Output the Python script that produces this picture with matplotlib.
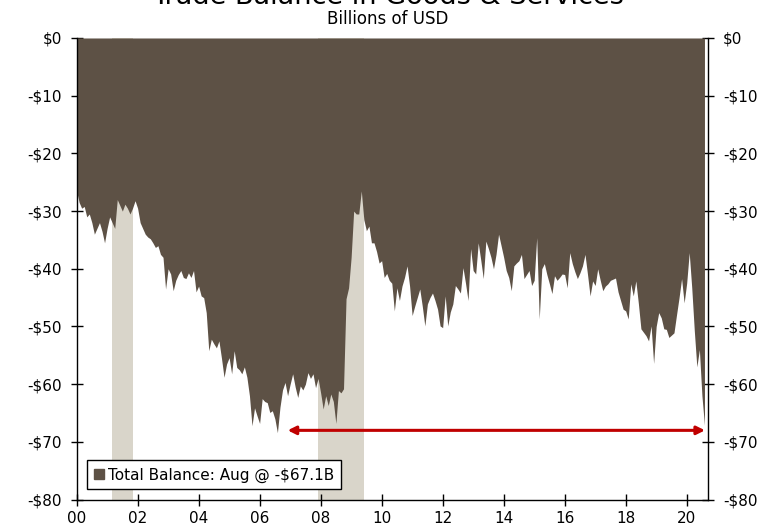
import numpy as np
import matplotlib
matplotlib.use("Agg")
import matplotlib.pyplot as plt
from matplotlib.patches import Patch
from matplotlib.ticker import FuncFormatter

# Monthly trade balance, billions of USD (Jan 2000 - Aug 2020)
bal_2000 = [-26.5, -28.5, -29.5, -29.2, -31.0, -30.5, -32.0, -34.0, -33.0, -32.0, -33.5, -35.5]
bal_2001 = [-33.0, -31.0, -32.0, -33.0, -28.0, -29.0, -30.0, -28.8, -29.5, -30.5, -29.5, -28.2]
bal_2002 = [-29.5, -32.0, -33.0, -34.0, -34.5, -34.8, -35.5, -36.3, -36.0, -37.5, -38.0, -43.5]
bal_2003 = [-40.0, -40.9, -43.8, -42.0, -41.0, -40.3, -41.5, -41.7, -40.7, -41.5, -40.3, -44.0]
bal_2004 = [-43.0, -44.7, -45.0, -47.6, -54.2, -52.2, -53.0, -53.7, -52.5, -55.5, -58.8, -56.5]
bal_2005 = [-55.4, -58.2, -54.2, -57.1, -57.5, -58.2, -57.0, -58.8, -62.0, -67.2, -64.1, -65.5]
bal_2006 = [-66.8, -62.5, -63.0, -63.2, -64.9, -64.6, -66.0, -68.4, -64.0, -61.0, -59.7, -62.0]
bal_2007 = [-60.0, -58.2, -60.5, -62.3, -60.3, -61.0, -60.0, -58.0, -59.0, -58.2, -60.6, -59.0]
bal_2008 = [-61.5, -64.3, -62.0, -63.7, -61.7, -63.0, -66.8, -61.1, -61.5, -60.8, -45.2, -43.3]
bal_2009 = [-38.0, -30.0, -30.5, -30.5, -26.5, -31.5, -33.4, -32.6, -35.5, -35.5, -37.0, -39.0]
bal_2010 = [-38.6, -41.5, -40.8, -42.0, -42.5, -47.3, -43.3, -45.5, -43.0, -41.5, -39.5, -43.0]
bal_2011 = [-48.1, -46.5, -45.0, -43.5, -46.5, -49.9, -46.1, -45.0, -44.2, -45.5, -47.0, -49.9]
bal_2012 = [-50.2, -44.7, -49.9, -47.5, -46.1, -42.9, -43.5, -44.2, -39.8, -42.5, -45.5, -36.5]
bal_2013 = [-40.3, -40.9, -35.5, -38.5, -41.7, -35.2, -36.5, -38.0, -40.0, -37.5, -34.0, -36.0]
bal_2014 = [-38.0, -40.3, -41.5, -43.8, -39.5, -39.0, -38.6, -37.5, -41.7, -41.0, -40.3, -42.9]
bal_2015 = [-42.0, -34.6, -48.7, -40.0, -39.1, -41.0, -42.6, -44.3, -41.2, -42.0, -41.5, -40.9]
bal_2016 = [-41.0, -43.3, -37.2, -39.1, -40.5, -41.7, -40.7, -39.5, -37.5, -41.0, -44.7, -42.1]
bal_2017 = [-42.9, -40.0, -42.0, -43.8, -43.0, -42.6, -42.0, -41.8, -41.6, -44.0, -45.5, -47.0]
bal_2018 = [-47.3, -48.7, -42.6, -44.7, -42.1, -46.0, -50.4, -51.0, -51.6, -52.5, -49.9, -56.4]
bal_2019 = [-50.0, -47.6, -48.5, -50.4, -50.5, -51.9, -51.5, -51.1, -48.0, -45.0, -41.7, -45.9]
bal_2020 = [-42.5, -37.2, -43.3, -50.7, -57.0, -54.0, -62.0, -67.1]

# Recessions (decimal years)
rec_start = [2001.167, 2007.917]
rec_end = [2001.833, 2009.417]

# Arrow from the 2006 low to the latest print
arrow_x = [2006.92, 2020.6]
arrow_y = -68

year_ticks = list(range(2000, 2021, 2))
y_ticks = list(range(-80, 1, 10))
legend_label = "Total Balance: Aug @ -$67.1B"

balance = (bal_2000 + bal_2001 + bal_2002 + bal_2003 + bal_2004 + bal_2005 + bal_2006
           + bal_2007 + bal_2008 + bal_2009 + bal_2010 + bal_2011 + bal_2012 + bal_2013
           + bal_2014 + bal_2015 + bal_2016 + bal_2017 + bal_2018 + bal_2019 + bal_2020)
x = 2000 + np.arange(len(balance)) / 12.0

area_color = "#5D5145"
rec_color = "#D9D5CA"
red = "#C00000"

fig = plt.figure(figsize=(7.76, 5.29), dpi=100)
ax = fig.add_axes([0.0987, 0.0556, 0.8141, 0.8726])

for s, e in zip(rec_start, rec_end):
    ax.axvspan(s, e, color=rec_color, lw=0, zorder=1)

ax.fill_between(x, 0, balance, color=area_color, lw=0, zorder=2)

ax.annotate("", xy=(arrow_x[1], arrow_y), xytext=(arrow_x[0], arrow_y),
            arrowprops=dict(arrowstyle="<|-|>", color=red, lw=2.2,
                            mutation_scale=12, shrinkA=0, shrinkB=0),
            zorder=4)

ax.set_xlim(2000, 2020.71)
ax.set_ylim(-80, 0)
ax.set_xticks(year_ticks)
ax.set_xticklabels(["%02d" % (y - 2000) for y in year_ticks])
ax.set_yticks(y_ticks)
ax.yaxis.set_major_formatter(FuncFormatter(
    lambda v, p: "-$%d" % abs(v) if v < 0 else "$%d" % v))

ax.tick_params(axis="both", direction="inout", length=9, width=1, labelsize=11)
ax.tick_params(axis="y", right=True, labelright=True, pad=6)
ax.tick_params(axis="x", pad=4)
ax.spines["top"].set_visible(False)
for side in ["left", "right", "bottom"]:
    ax.spines[side].set_linewidth(1)
ax.set_zorder(3)

leg = ax.legend(handles=[Patch(color=area_color, label=legend_label)],
                loc="lower left", bbox_to_anchor=(0.016, 0.022),
                fontsize=11, frameon=True, fancybox=False, framealpha=1,
                edgecolor="black", handlelength=0.7, handleheight=0.7,
                handletextpad=0.25, borderpad=0.45, borderaxespad=0)
leg.get_frame().set_linewidth(1)

fig.text(0.5, 1 - 4 / 529, "Trade Balance in Goods & Services", ha="center",
         va="baseline", fontsize=19.5)
fig.text(0.5, 1 - 24 / 529, "Billions of USD", ha="center", va="baseline", fontsize=12)

fig.savefig("out.png", dpi=100)
